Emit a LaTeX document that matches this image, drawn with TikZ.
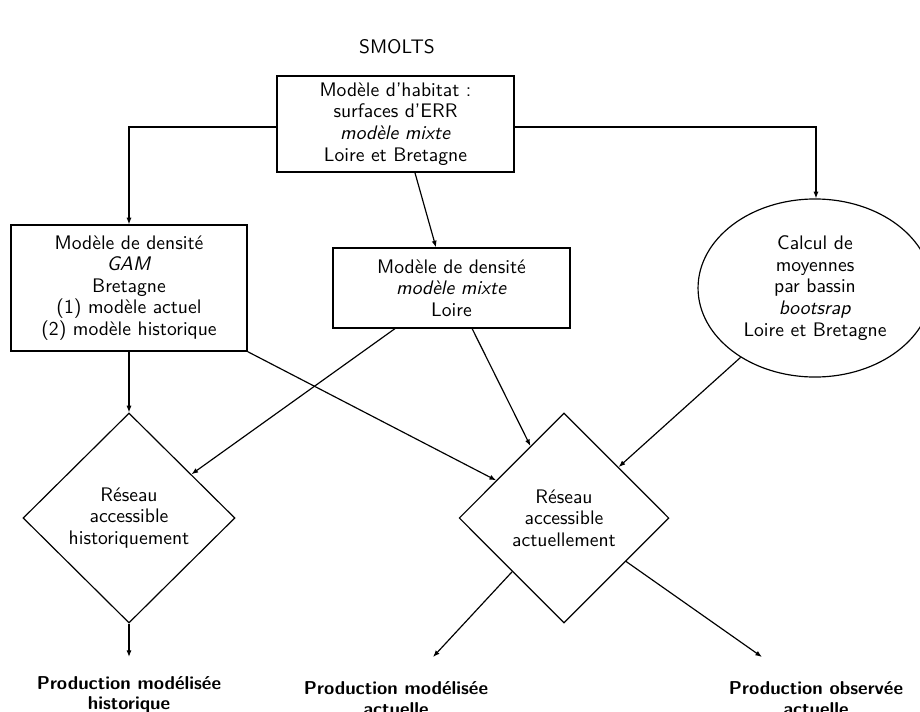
\documentclass[tikz,border=0pt]{standalone}
\usetikzlibrary{shapes.geometric,arrows.meta}
\begin{document}
\begin{tikzpicture}[x=0.51pt,y=-0.51pt,
  font=\sffamily\fontsize{10}{11}\selectfont,
  box/.style={draw, line width=0.6pt, align=center, inner sep=0pt},
  conn/.style={draw, line width=0.6pt, -{Latex[length=3.4pt,width=2.6pt]}},
  outlabel/.style={align=center, inner sep=0pt, font=\sffamily\bfseries\fontsize{9.5}{10.5}\selectfont}]
\fill[white] (0,0) rectangle (920,711);
\clip (0,0) rectangle (920,711);
\node (title) at (397,47) {SMOLTS};
\node[box, minimum width=120.9pt, minimum height=49pt] (hab) at (395.5,124)
  {Modèle d’habitat :\\ surfaces d’ERR\\ \textit{modèle mixte}\\ Loire et Bretagne};
\node[box, minimum width=120.4pt, minimum height=64.3pt] (gam) at (129,288)
  {Modèle de densité\\ \textit{GAM}\\ Bretagne\\ (1) modèle actuel\\ (2) modèle historique};
\node[box, minimum width=120.9pt, minimum height=40.8pt] (mix) at (451.5,288)
  {Modèle de densité\\ \textit{modèle mixte}\\ Loire};
\node[box, ellipse, minimum width=119.3pt, minimum height=90.8pt] (moy) at (815,288)
  {Calcul de\\ moyennes\\ par bassin\\ \textit{bootsrap}\\ Loire et Bretagne};
\node[box, diamond, minimum width=108.1pt, minimum height=107.1pt] (dh) at (129,518)
  {Réseau\\ accessible\\ historiquement};
\node[box, diamond, minimum width=107pt, minimum height=107.1pt] (da) at (564,518)
  {Réseau\\ accessible\\ actuellement};
\node[outlabel] (ph) at (129,695) {Production modélisée\\ historique};
\node[outlabel] (pma) at (396,698.5) {Production modélisée\\ actuelle};
\node[outlabel] (poa) at (816,698.5) {Production observée\\ actuelle};
\coordinate (eh) at (129,657);
\coordinate (ema) at (433,657);
\coordinate (eoa) at (762,657);
\draw[conn] ([yshift=-1.5pt]hab.west) -| (gam.north);
\draw[conn] ([yshift=-1.5pt]hab.east) -| ([xshift=0.5pt]moy.north);
\draw[conn] ([xshift=9.9pt]hab.south) -- ([xshift=-7.9pt]mix.north);
\draw[conn] (gam.south) -- (dh.north);
\draw[conn] (gam.south east) -- (da.151.8);
\draw[conn] ([xshift=-28.8pt]mix.south) -- (dh.35.3);
\draw[conn] ([xshift=10.5pt]mix.south) -- (da.115.6);
\draw[conn] (moy.223) -- (da.43.4);
\draw[conn] (dh.south) -- (eh);
\draw[conn] (da.226.6) -- (ema);
\draw[conn] (da.-35.5) -- (eoa);
\end{tikzpicture}
\end{document}
